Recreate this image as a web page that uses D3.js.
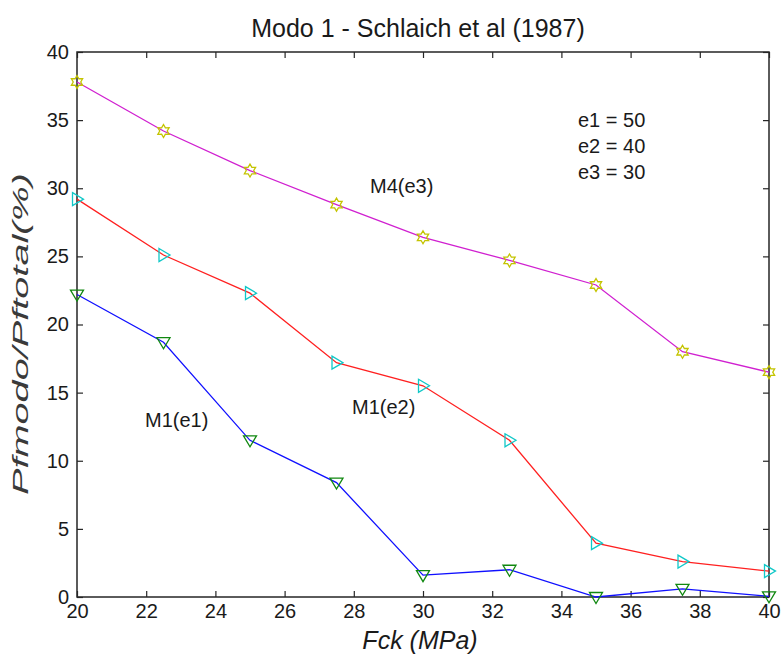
<!DOCTYPE html>
<html><head><meta charset="utf-8">
<script src="https://cdn.jsdelivr.net/npm/d3@7"></script>
<style>body{margin:0;background:#fff}svg{display:block}text{font-family:"Liberation Sans",Arial,sans-serif}</style>
</head><body>
<svg id="c" width="781" height="657"></svg>
<script>
const fck = [20, 22.5, 25, 27.5, 30, 32.5, 35, 37.5, 40];
const m1e1 = [22.2, 18.7, 11.5, 8.4, 1.6, 2.0, 0.0, 0.6, 0.05];
const m1e2 = [29.2, 25.1, 22.3, 17.2, 15.5, 11.5, 3.95, 2.6, 1.9];
const m4e3 = [37.8, 34.2, 31.3, 28.8, 26.4, 24.7, 22.9, 18.0, 16.5];
const xTicks = [20, 22, 24, 26, 28, 30, 32, 34, 36, 38, 40];
const yTicks = [0, 5, 10, 15, 20, 25, 30, 35, 40];
const notes = ["e1 = 50", "e2 = 40", "e3 = 30"];

const svg = d3.select("#c");
const L = 77, R = 769, T = 52, B = 597;
const x = d3.scaleLinear().domain([20, 40]).range([L, R]);
const y = d3.scaleLinear().domain([0, 40]).range([B, T]);
const axisCol = "#262626";
const textCol = "#1a1a1a";
const tf = '"Liberation Sans", Arial, sans-serif';

svg.append("rect").attr("x", L).attr("y", T).attr("width", R - L).attr("height", B - T)
  .attr("fill", "none").attr("stroke", axisCol).attr("stroke-width", 1.5);

function styleAxis(g) {
  g.select(".domain").remove();
  g.selectAll(".tick line").attr("stroke", axisCol).attr("stroke-width", 1.2);
  g.selectAll(".tick text").attr("fill", textCol).attr("font-size", 20).style("font-family", tf);
}
svg.append("g").attr("transform", `translate(0,${B})`)
  .call(d3.axisBottom(x).tickValues(xTicks).tickSize(-6).tickPadding(7).tickFormat(d3.format("d")))
  .call(styleAxis);
svg.append("g").attr("transform", `translate(0,${T})`)
  .call(d3.axisTop(x).tickValues(xTicks).tickSize(-6).tickFormat(""))
  .call(styleAxis);
svg.append("g").attr("transform", `translate(${L},0)`)
  .call(d3.axisLeft(y).tickValues(yTicks).tickSize(-6).tickPadding(8).tickFormat(d3.format("d")))
  .call(styleAxis);
svg.append("g").attr("transform", `translate(${R},0)`)
  .call(d3.axisRight(y).tickValues(yTicks).tickSize(-6).tickFormat(""))
  .call(styleAxis);

const line = d3.line().x((d, i) => x(fck[i])).y(d => y(d));

function series(vals, lineCol, markCol, shape) {
  svg.append("path").datum(vals).attr("d", line).attr("fill", "none")
    .attr("stroke", lineCol).attr("stroke-width", 1.3);
  const g = svg.append("g");
  vals.forEach((v, i) => {
    const cx = x(fck[i]), cy = y(v);
    let p;
    if (shape === "v") {
      p = `M${cx - 6.5},${cy - 4.5}L${cx + 6.5},${cy - 4.5}L${cx},${cy + 6.5}Z`;
    } else if (shape === ">") {
      p = `M${cx - 4.5},${cy - 6.5}L${cx + 6.5},${cy}L${cx - 4.5},${cy + 6.5}Z`;
    } else {
      const r = 6.5, ri = 3.75, pts = [];
      for (let k = 0; k < 12; k++) {
        const a = -Math.PI / 2 + k * Math.PI / 6;
        const rr = k % 2 === 0 ? r : ri;
        pts.push([cx + rr * Math.cos(a), cy + rr * Math.sin(a)]);
      }
      p = "M" + pts.map(q => q.join(",")).join("L") + "Z";
    }
    g.append("path").attr("d", p).attr("fill", "none").attr("stroke", markCol).attr("stroke-width", 1.3);
  });
}
series(m4e3, "#d020d0", "#c4c400", "h");
series(m1e2, "#ff2020", "#10c8c8", ">");
series(m1e1, "#1010ff", "#108810", "v");

function txt(xv, yv, s, size, extra) {
  const t = svg.append("text").attr("x", xv).attr("y", yv).attr("font-size", size)
    .attr("fill", textCol).style("font-family", tf).text(s);
  if (extra) extra(t);
  return t;
}
txt(418, 37, "Modo 1 - Schlaich et al (1987)", 25, t => t.attr("text-anchor", "middle"));
txt(420, 649, "Fck (MPa)", 25, t => t.attr("text-anchor", "middle").attr("font-style", "italic"));
svg.append("text").attr("transform", `translate(28,334) rotate(-90)`)
  .attr("text-anchor", "middle").attr("font-size", 22).attr("font-style", "italic")
  .attr("textLength", 322).attr("lengthAdjust", "spacingAndGlyphs")
  .attr("fill", "#3a3a3a").style("font-family", tf).text("Pfmodo/Pftotal(%)");

txt(370, 193, "M4(e3)", 20);
txt(352, 414, "M1(e2)", 20);
txt(145, 427, "M1(e1)", 20);
notes.forEach((s, i) => txt(578, 127 + i * 26, s, 20));
</script>
</body></html>
